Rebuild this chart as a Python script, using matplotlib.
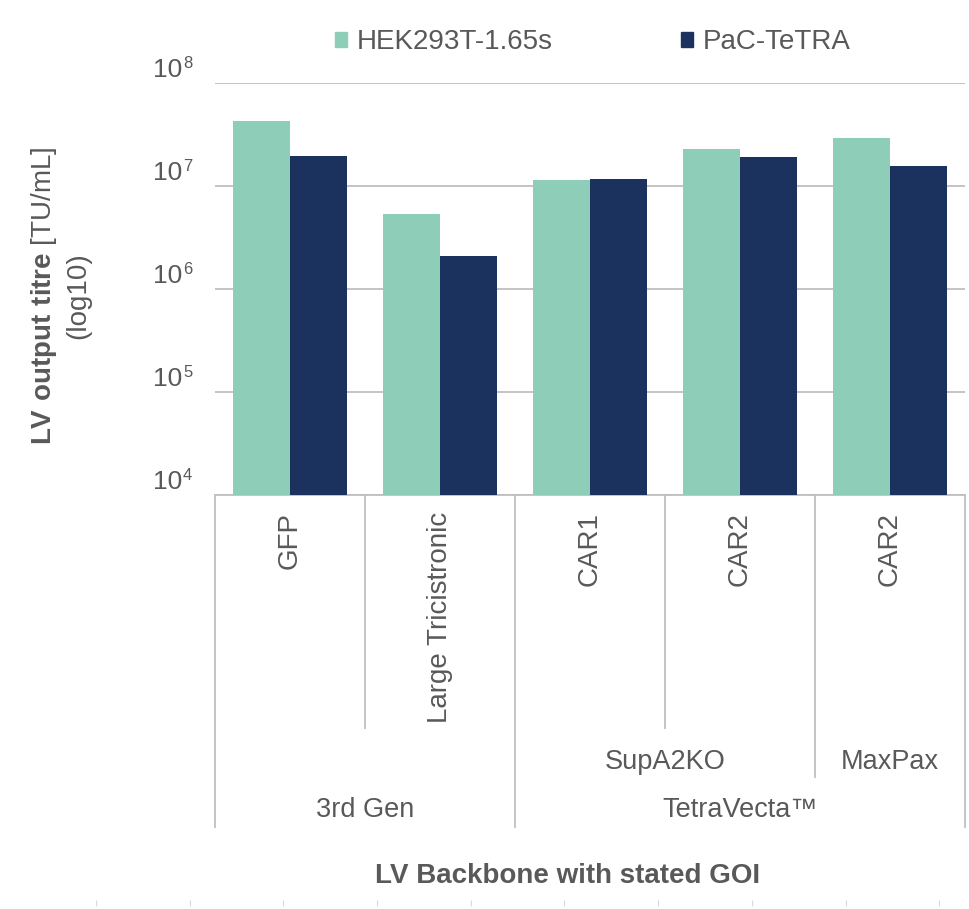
import matplotlib
matplotlib.use("Agg")
import matplotlib.pyplot as plt
import matplotlib.transforms as mtransforms
from matplotlib.patches import Patch
import numpy as np

# titres per backbone / GOI
products = ['GFP', 'Large Tricistronic', 'CAR1', 'CAR2', 'CAR2']
platforms = ['', '', 'SupA2KO', 'SupA2KO', 'MaxPax']
generations = ['3rd Gen', '3rd Gen', 'TetraVecta\u2122', 'TetraVecta\u2122', 'TetraVecta\u2122']
series = ['HEK293T-1.65s', 'PaC-TeTRA']
hek_titre = [4.3e7, 5.3e6, 1.14e7, 2.29e7, 2.9e7]
pac_titre = [1.95e7, 2.07e6, 1.17e7, 1.9e7, 1.57e7]
yticks = [1e4, 1e5, 1e6, 1e7, 1e8]

green = '#8ECDB7'
navy = '#1B325E'
txt = '#595959'
line = '#BFBFBF'

plt.rcParams.update({
    'font.family': 'Liberation Sans',
    'mathtext.fontset': 'custom',
    'mathtext.rm': 'Liberation Sans',
    'mathtext.bf': 'Liberation Sans:bold',
    'text.color': txt,
})

W, H = 970, 909
fig = plt.figure(figsize=(W / 100, H / 100), dpi=100)
ax_l, ax_r, ax_t, ax_b = 215, 965, 83, 495
ax = fig.add_axes([ax_l / W, 1 - ax_b / H, (ax_r - ax_l) / W, (ax_b - ax_t) / H])
ah = ax_b - ax_t
aw = ax_r - ax_l

x = np.arange(len(products))
bw = 0.38
ax.bar(x - bw / 2, hek_titre, bw, color=green, zorder=3)
ax.bar(x + bw / 2, pac_titre, bw, color=navy, zorder=3)

ax.set_yscale('log')
ax.set_ylim(yticks[0], yticks[-1])
ax.set_xlim(-0.5, len(products) - 0.5)
ax.set_yticks(yticks)
ax.yaxis.set_minor_locator(matplotlib.ticker.NullLocator())
ax.set_yticklabels([])
ax.set_xticks([])
ax.tick_params(axis='y', length=0)
ax.grid(axis='y', color=line, lw=1.3, zorder=0)
for s in ['left', 'right', 'top']:
    ax.spines[s].set_visible(False)
ax.spines['bottom'].set_color(line)
ax.spines['bottom'].set_linewidth(1.3)

# y tick labels: "10" plus a small raised exponent, a little above each gridline
yt = mtransforms.blended_transform_factory(ax.transAxes, ax.transData)
base_tr = yt + mtransforms.ScaledTranslation(0, 6 / 100, fig.dpi_scale_trans)
exp_tr = yt + mtransforms.ScaledTranslation(0, 15 / 100, fig.dpi_scale_trans)
for v in yticks:
    ax.text(-33 / aw, v, '10', transform=base_tr, ha='right', va='baseline',
            fontsize=19, color=txt)
    ax.text(-32 / aw, v, str(int(np.log10(v))), transform=exp_tr, ha='left',
            va='baseline', fontsize=12, color=txt)

# multi-level category axis
sep_tr = mtransforms.blended_transform_factory(ax.transData, ax.transAxes)
lvl1 = -(728 - ax_b) / ah
lvl2 = -(777 - ax_b) / ah
lvl3 = -(827 - ax_b) / ah


def spans(labels):
    out = []
    start = 0
    for i in range(1, len(labels) + 1):
        if i == len(labels) or labels[i] != labels[start]:
            out.append((labels[start], start, i - 1))
            start = i
    return out


bounds = {}
for i in range(len(products) + 1):
    bounds[i] = lvl1
for name, a, b in spans(platforms):
    if name:
        bounds[a] = min(bounds[a], lvl2)
        bounds[b + 1] = min(bounds[b + 1], lvl2)
for name, a, b in spans(generations):
    bounds[a] = lvl3
    bounds[b + 1] = lvl3
for i, yb in bounds.items():
    ax.plot([i - 0.5, i - 0.5], [0, yb], transform=sep_tr, color=line, lw=1.3,
            clip_on=False)

for i, p in enumerate(products):
    ax.text(i, -17 / ah, p, transform=sep_tr, rotation=90, ha='center', va='top',
            fontsize=20, color=txt)
for name, a, b in spans(platforms):
    if name:
        ax.text((a + b) / 2, -(762 - ax_b) / ah, name, transform=sep_tr,
                ha='center', va='center', fontsize=19.5, color=txt)
for name, a, b in spans(generations):
    ax.text((a + b) / 2, -(810 - ax_b) / ah, name, transform=sep_tr,
            ha='center', va='center', fontsize=19.5, color=txt)

# axis titles
fig.text(44 / W, 1 - 296 / H, r'$\mathbf{LV\ output\ titre}$ [TU/mL]', rotation=90,
         ha='center', va='center', fontsize=20, color=txt)
fig.text(78 / W, 1 - 296 / H, '(log10)', rotation=90,
         ha='center', va='center', fontsize=20, color=txt)
fig.text(568 / W, 1 - 876 / H, 'LV Backbone with stated GOI', ha='center',
         va='center', fontsize=20, fontweight='bold', color=txt)

handles = [Patch(color=green), Patch(color=navy)]
fig.legend(handles, series, loc='center', bbox_to_anchor=(593 / W, 1 - 42 / H),
           ncol=2, frameon=False, fontsize=20, handlelength=0.45, handleheight=0.45,
           handletextpad=0.35, columnspacing=4.6, labelcolor=txt)

# faint tick marks along the bottom edge
tick_ax = fig.add_axes([0, 1 - 900 / H, 1, 0.0001])
tick_ax.set_xlim(0, W)
tick_ax.set_xticks(np.arange(96, W, 93.7))
tick_ax.set_yticks([])
tick_ax.tick_params(axis='x', length=4, color='#D9D9D9', labelbottom=False)
for s in tick_ax.spines.values():
    s.set_visible(False)
tick_ax.patch.set_visible(False)

fig.savefig('out.png', dpi=100)
